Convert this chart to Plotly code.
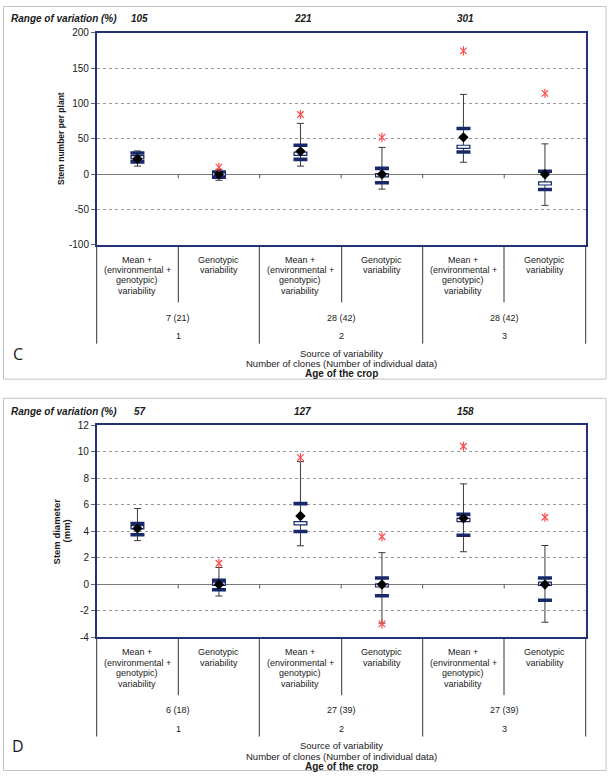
import plotly.graph_objects as go

W, H = 609, 777

# ---------------- data ----------------
mean_lines = ["Mean +", "(environmental +", "genotypic)", "variability"]
gen_lines = ["Genotypic", "variability"]
ages = ["1", "2", "3"]
bottom_titles = ["Source of variability", "Number of clones (Number of individual data)"]
bottom_bold = "Age of the crop"
range_title = "Range of variation (%)"

# Panel C : stem number per plant
c_ticks = [-100, -50, 0, 50, 100, 150, 200]
c_ticktext = ["-100", "-50", "0", "50", "100", "150", "200"]
c_range = [105, 221, 301]
c_clones = ["7 (21)", "28 (42)", "28 (42)"]
c_max = [33, 7, 72, 38, 113, 43]
c_min = [11.5, -8.5, 11.5, -21, 17, -44]
c_upper = [30, 3.3, 41, 8.3, 64.7, 4.2]
c_lower = [17.5, -4.2, 21, -12, 31.4, -21.6]
c_median = [24, 0, 29, -1.3, 38.8, -12.9]
c_mean = [22, 0, 32.4, 0, 52.2, 0]
c_out_hi = [None, 10, 84.5, 52.2, 174.5, 114.5]
c_out_lo = [None, None, None, None, None, None]

# Panel D : stem diameter (mm)
d_ticks = [-4, -2, 0, 2, 4, 6, 8, 10, 12]
d_ticktext = ["-4", "-2", "0", "2", "4", "6", "8", "10", "12"]
d_range = [57, 127, 158]
d_clones = ["6 (18)", "27 (39)", "27 (39)"]
d_max = [5.73, 1.28, 9.27, 2.4, 7.59, 2.94]
d_min = [3.31, -0.87, 2.92, -2.92, 2.47, -2.85]
d_upper = [4.6, 0.32, 6.1, 0.49, 5.29, 0.49]
d_lower = [3.75, -0.4, 4.0, -0.85, 3.71, -1.19]
d_median = [4.32, 0.05, 4.62, -0.07, 4.87, 0.05]
d_mean = [4.23, 0, 5.17, 0, 4.99, 0]
d_out_hi = [None, 1.6, 9.57, 3.6, 10.43, 5.07]
d_out_lo = [None, None, None, -2.97, None, None]

# ---------------- style ----------------
NAVY = "#17286b"
FRAME = "#22317a"
WHISK = "#3a3a3a"
RED = "#ff4a4a"
TXT = "#1a1a1a"
FONT = "Liberation Sans, Arial, sans-serif"


def px(x):
    return x / W


def py(y):
    return 1 - y / H


def ann(text, x, y, xref="paper", size=9, xanchor="center", angle=0, family=FONT):
    return dict(text=text, xref=xref, yref="paper", x=x, y=y, showarrow=False,
                xanchor=xanchor, yanchor="middle", textangle=angle,
                font=dict(family=family, size=size, color=TXT))


PLOT_L, PLOT_R = 96.7, 585.7
panels = [
    dict(x="x", y="y", top=27.3, off=0, ymin=-100, ymax=200,
         tv=c_ticks, tt=c_ticktext,
         ytitle=["Stem number per plant"], ytsize=8.5, letter="C",
         rng=c_range, clones=c_clones, mx=c_max, mn=c_min, up=c_upper, lo=c_lower,
         med=c_median, mean=c_mean, ohi=c_out_hi, olo=c_out_lo),
    dict(x="x2", y="y2", top=426.0, off=399, ymin=-4, ymax=12,
         tv=d_ticks, tt=d_ticktext,
         ytitle=["Stem diameter", "(mm)"], ytsize=9.5, letter="D",
         rng=d_range, clones=d_clones, mx=d_max, mn=d_min, up=d_upper, lo=d_lower,
         med=d_median, mean=d_mean, ohi=d_out_hi, olo=d_out_lo),
]
PLOT_H = 215.4

fig = go.Figure()
shapes = []
annotations = []
xs = [i + 0.5 for i in range(6)]

for p in panels:
    xa, ya, off = p["x"], p["y"], p["off"]
    # whiskers
    fig.add_trace(go.Scatter(
        x=xs, y=p["mn"], xaxis=xa, yaxis=ya, mode="markers",
        marker=dict(size=1, color="rgba(0,0,0,0)"),
        error_y=dict(type="data", symmetric=False,
                     array=[a - b for a, b in zip(p["mx"], p["mn"])],
                     arrayminus=[0] * 6, color=WHISK, thickness=1, width=3.5),
        hoverinfo="skip"))
    # thick bars
    for arr in (p["up"], p["lo"]):
        fig.add_trace(go.Scatter(
            x=xs, y=arr, xaxis=xa, yaxis=ya, mode="markers",
            marker=dict(symbol="line-ew", size=10, color=NAVY,
                        line=dict(width=3.6, color=NAVY)),
            hoverinfo="skip"))
    # median : white rectangle with navy border
    fig.add_trace(go.Scatter(
        x=xs, y=p["med"], xaxis=xa, yaxis=ya, mode="markers",
        marker=dict(symbol="line-ew", size=10, color=NAVY,
                    line=dict(width=4.4, color=NAVY)), hoverinfo="skip"))
    fig.add_trace(go.Scatter(
        x=xs, y=p["med"], xaxis=xa, yaxis=ya, mode="markers",
        marker=dict(symbol="line-ew", size=8.2, color="white",
                    line=dict(width=2.0, color="white")), hoverinfo="skip"))
    # mean diamond
    fig.add_trace(go.Scatter(
        x=xs, y=p["mean"], xaxis=xa, yaxis=ya, mode="markers",
        marker=dict(symbol="diamond", size=8, color="black", line=dict(width=0)),
        hoverinfo="skip"))
    # outliers (star marker = x + vertical line)
    for arr in (p["ohi"], p["olo"]):
        for sym in ("x-thin-open", "line-ns-open"):
            fig.add_trace(go.Scatter(
                x=xs, y=arr, xaxis=xa, yaxis=ya, mode="markers",
                marker=dict(symbol=sym, size=6.5, color=RED,
                            line=dict(width=1.2, color=RED)),
                hoverinfo="skip"))

    # ticks on the zero line at category separators
    for k in range(1, 6):
        shapes.append(dict(type="line", xref=xa, yref=ya, x0=k, x1=k,
                           ysizemode="pixel", yanchor=0, y0=0, y1=-4,
                           line=dict(color="#555", width=1)))

    bot = p["top"] + PLOT_H
    # label table lines
    for xpx in (PLOT_L, 259.3, 422.7, PLOT_R):
        shapes.append(dict(type="line", xref="paper", yref="paper",
                           x0=px(xpx), x1=px(xpx), y0=py(bot), y1=py(343 + off),
                           line=dict(color="#333", width=1)))
    for xpx in (178.3, 341.7, 504.0):
        shapes.append(dict(type="line", xref="paper", yref="paper",
                           x0=px(xpx), x1=px(xpx), y0=py(bot), y1=py(301 + off),
                           line=dict(color="#333", width=1)))

    # category labels
    for i in range(6):
        lines = mean_lines if i % 2 == 0 else gen_lines
        for j, t in enumerate(lines):
            annotations.append(ann(t, xs[i], py(257.5 + 10.6 * j + off), xref=xa))
    for g in range(3):
        annotations.append(ann(p["clones"][g], 2 * g + 1, py(316.5 + off), xref=xa))
        annotations.append(ann(ages[g], 2 * g + 1, py(335 + off), xref=xa))
        annotations.append(ann("<b><i>%d</i></b>" % p["rng"][g], xs[2 * g] + 0.03,
                               py(12.5 + off), xref=xa, size=10))
    annotations.append(ann("<b><i>" + range_title + "</i></b>", px(9), py(12.5 + off),
                           size=10, xanchor="left"))
    # bottom titles
    xc = px((PLOT_L + PLOT_R) / 2)
    for j, t in enumerate(bottom_titles):
        annotations.append(ann(t, xc, py(352.5 + 10.6 * j + off), size=9.5))
    annotations.append(ann("<b>" + bottom_bold + "</b>", xc, py(373.5 + off), size=10))
    # panel letter
    annotations.append(ann(p["letter"], px(18), py(353 + off), size=16,
                           family="Open Sans, sans-serif"))
    # y title (one annotation per line)
    nl = len(p["ytitle"])
    for j, t in enumerate(p["ytitle"]):
        xcen = 61 + (j - (nl - 1) / 2) * 10
        annotations.append(ann("<b>" + t + "</b>", px(xcen), py(p["top"] + PLOT_H / 2),
                               size=p["ytsize"], angle=-90))
    # outer panel frame
    if off == 0:
        fy0, fy1 = 379, 0.5
    else:
        fy0, fy1 = 776.5, 398.5
    shapes.append(dict(type="rect", xref="paper", yref="paper",
                       x0=px(3.5), x1=px(606), y0=py(fy0), y1=py(fy1),
                       line=dict(color="#c4c4c4", width=1), layer="below"))

xdom = [px(PLOT_L), px(PLOT_R)]
axis_common = dict(showline=True, mirror=True, linecolor=FRAME, linewidth=1.5)
for p in panels:
    bot = p["top"] + PLOT_H
    xname = "xaxis" if p["x"] == "x" else "xaxis2"
    yname = "yaxis" if p["y"] == "y" else "yaxis2"
    fig.update_layout(**{
        xname: dict(domain=xdom, range=[0, 6], anchor=p["y"], showgrid=False,
                    zeroline=False, showticklabels=False, ticks="", **axis_common),
        yname: dict(domain=[py(bot), py(p["top"])], range=[p["ymin"], p["ymax"]],
                    anchor=p["x"], tickmode="array", tickvals=p["tv"], ticktext=p["tt"],
                    showgrid=True,
                    gridcolor="#9a9a9a", griddash="dot", gridwidth=1,
                    zeroline=True, zerolinecolor="#7a7a7a", zerolinewidth=1.2,
                    ticks="outside", ticklen=4, tickcolor="#666",
                    tickfont=dict(family=FONT, size=10, color=TXT), **axis_common),
    })

fig.update_layout(width=W, height=H, margin=dict(l=0, r=0, t=0, b=0),
                  paper_bgcolor="white", plot_bgcolor="white", showlegend=False,
                  shapes=shapes, annotations=annotations)
fig.write_html("out.html", config={"displayModeBar": False},
               post_script="document.body.style.margin='0';document.body.style.padding='0';")
